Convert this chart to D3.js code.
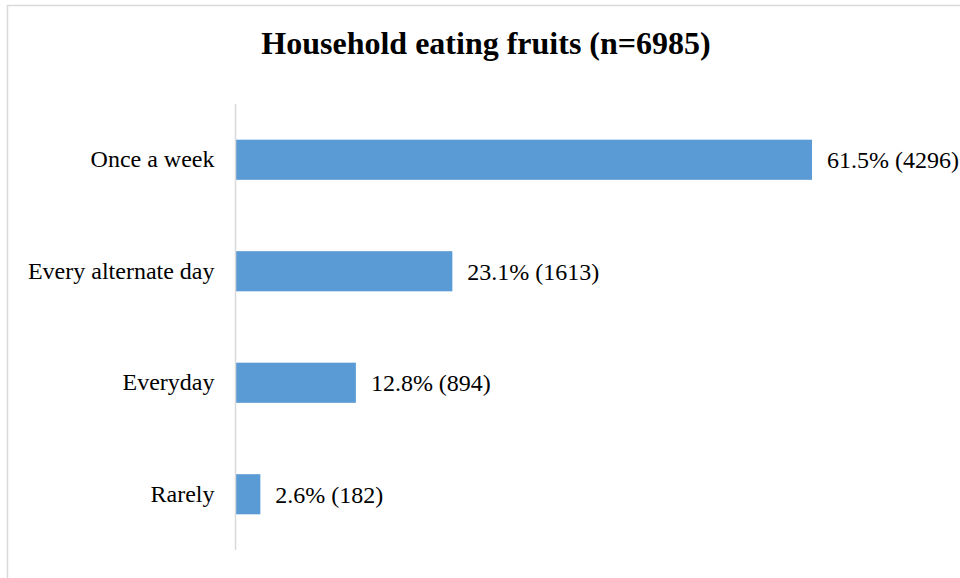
<!DOCTYPE html>
<html>
<head>
<meta charset="utf-8">
<style>
    body { margin: 0; background: #fff; }
    svg { display: block; font-family: 'Liberation Serif', 'Times New Roman', serif; }
</style>
</head>
<body>
<svg width="960" height="578"></svg>
<script src="https://d3js.org/d3.v7.min.js"></script>
<script>
// chart data
let categories = ["Once a week", "Every alternate day", "Everyday", "Rarely"];
let percents = [61.5, 23.1, 12.8, 2.6];
let counts = [4296, 1613, 894, 182];
let title = "Household eating fruits (n=6985)";

let svg = d3.select("svg");

// outer chart border (runs off the right/bottom edge like the reference)
svg.append("rect")
    .attr("x", 7.5).attr("y", 5.5)
    .attr("width", 1000).attr("height", 1000)
    .attr("fill", "none")
    .attr("stroke", "#d9d9d9")
    .attr("stroke-width", 1.5);

let margin = { top: 104, left: 236, bottom: 28 };
let plotH = 578 - margin.top - margin.bottom;

let x = d3.scaleLinear()
    .domain([0, 61.5])
    .range([margin.left, 812]);

let y = d3.scaleBand()
    .domain(categories)
    .range([margin.top, margin.top + plotH])
    .paddingInner(0.64)
    .paddingOuter(0.32);

svg.append("text")
    .attr("x", 486)
    .attr("y", 54)
    .attr("text-anchor", "middle")
    .attr("font-size", 32)
    .attr("font-weight", "bold")
    .attr("fill", "#000")
    .text(title);

let rows = categories.map((c, i) => ({ cat: c, pct: percents[i], n: counts[i] }));

svg.append("g")
    .selectAll("rect")
    .data(rows)
    .join("rect")
    .attr("x", x(0))
    .attr("y", d => y(d.cat))
    .attr("width", d => x(d.pct) - x(0))
    .attr("height", y.bandwidth())
    .attr("fill", "#5b9bd5");

// category axis
let yAxis = svg.append("g")
    .attr("transform", `translate(${x(0) - 0.5},0)`)
    .call(d3.axisLeft(y).tickSize(0).tickPadding(21));
yAxis.select(".domain")
    .attr("d", `M0,${margin.top}V${margin.top + plotH}`)
    .attr("stroke", "#d9d9d9")
    .attr("stroke-width", 1.5);
yAxis.selectAll("text")
    .attr("font-family", "'Liberation Serif', 'Times New Roman', serif")
    .attr("font-size", 24)
    .attr("fill", "#000");

svg.append("g")
    .selectAll("text")
    .data(rows)
    .join("text")
    .attr("x", d => x(d.pct) + 15)
    .attr("y", d => y(d.cat) + y.bandwidth() / 2)
    .attr("dy", "0.35em")
    .attr("font-size", 24)
    .attr("fill", "#000")
    .text(d => `${d.pct}% (${d.n})`);
</script>
</body>
</html>
